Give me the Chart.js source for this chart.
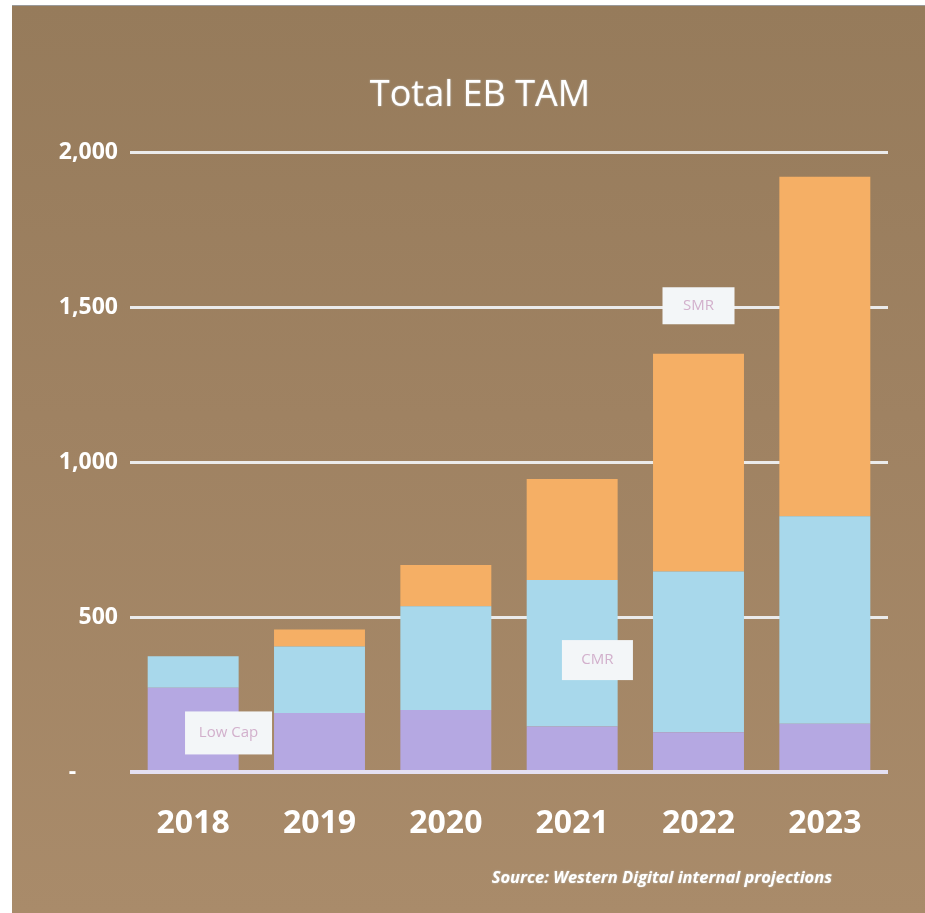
<!DOCTYPE html>
<html>
<head>
<meta charset="utf-8">
<script src="https://cdn.jsdelivr.net/npm/chart.js@4/dist/chart.umd.min.js"></script>
<style>
  html, body { margin: 0; padding: 0; background: #ffffff; }
  #frame {
    position: absolute; left: 12px; top: 5px; width: 913px; height: 908px;
    background: linear-gradient(180deg, #967b5b 0%, #9f8262 45%, #a98b6a 100%);
    border-top: 1px solid #9a9a9a;
  }
  canvas { display: block; }
</style>
</head>
<body>
<div id="frame"><canvas id="c" width="913" height="907"></canvas></div>
<script>
const categories = ['2018', '2019', '2020', '2021', '2022', '2023'];
const lowCap = [272, 190, 200, 147, 128, 156];
const cmr    = [101, 215, 335, 472, 519, 669];
const smr    = [0, 55, 133, 326, 702, 1095];
const seriesNames = ['Low Cap', 'CMR', 'SMR'];
const yTicks = [0, 500, 1000, 1500, 2000];
const yTickLabels = ['-       ', '500', '1,000', '1,500', '2,000'];
const titleText = 'Total EB TAM';
const sourceText = 'Source: Western Digital internal projections';

const FONT = '"Open Sans", "DejaVu Sans", sans-serif';

const calloutPlugin = {
  id: 'callouts',
  afterDatasetsDraw(chart, args, opts) {
    const { ctx } = chart;
    const xs = chart.scales.x, ys = chart.scales.y;
    const step = xs.getPixelForValue(1) - xs.getPixelForValue(0);
    opts.items.forEach(it => {
      const cx = xs.getPixelForValue(Math.floor(it.index)) + (it.index - Math.floor(it.index)) * step;
      const cy = ys.getPixelForValue(it.value);
      ctx.save();
      ctx.fillStyle = '#f3f6f8';
      ctx.fillRect(cx - it.w / 2, cy - it.h / 2, it.w, it.h);
      ctx.fillStyle = '#d2b0cc';
      ctx.font = '15px ' + FONT;
      ctx.textAlign = 'center';
      ctx.textBaseline = 'middle';
      ctx.fillText(it.text, cx, cy);
      ctx.restore();
    });
  }
};

const textPlugin = {
  id: 'slideText',
  afterDraw(chart) {
    const { ctx } = chart;
    ctx.save();
    ctx.fillStyle = '#ffffff';
    ctx.shadowColor = 'rgba(220,240,255,0.6)';
    ctx.shadowBlur = 2;
    ctx.font = '36px ' + FONT;
    ctx.textAlign = 'center';
    ctx.textBaseline = 'middle';
    ctx.fillText(titleText, 468, 90);
    ctx.font = 'italic bold 16.5px ' + FONT;
    ctx.textAlign = 'right';
    ctx.fillText(sourceText, 820, 872);
    ctx.restore();
  }
};

new Chart(document.getElementById('c'), {
  type: 'bar',
  data: {
    labels: categories,
    datasets: [
      { label: seriesNames[0], data: lowCap, backgroundColor: '#b5a8e2' },
      { label: seriesNames[1], data: cmr, backgroundColor: '#a8d8eb' },
      { label: seriesNames[2], data: smr, backgroundColor: '#f5af65' }
    ]
  },
  options: {
    responsive: false,
    animation: false,
    layout: { padding: { top: 146, right: 37, bottom: 60, left: 0 } },
    datasets: { bar: { barPercentage: 0.72, categoryPercentage: 1.0, borderWidth: 0 } },
    plugins: {
      legend: { display: false },
      title: { display: false },
      tooltip: { enabled: false },
      callouts: {
        items: [
          { text: seriesNames[0], index: 0.28, value: 126, w: 87, h: 43 },
          { text: seriesNames[1], index: 3.2, value: 361, w: 71, h: 40 },
          { text: seriesNames[2], index: 4.0, value: 1504, w: 72, h: 37 }
        ]
      }
    },
    scales: {
      x: {
        stacked: true,
        grid: { display: false, drawTicks: false },
        border: { display: false },
        ticks: { color: '#ffffff', font: { family: FONT, size: 32, weight: 'bold' }, padding: 33 },
        afterFit(s) { s.height = 81; }
      },
      y: {
        stacked: true,
        min: 0, max: 2000,
        afterBuildTicks(s) { s.ticks = yTicks.map(v => ({ value: v })); },
        grid: {
          drawTicks: false,
          color: ctx => ctx.tick && ctx.tick.value === 0 ? '#e4e0f2' : '#ebebeb',
          lineWidth: ctx => ctx.tick && ctx.tick.value === 0 ? 4 : 3
        },
        border: { display: false },
        ticks: {
          color: '#ffffff',
          font: { family: FONT, size: 23, weight: 'bold' },
          padding: 12,
          callback: (v) => yTickLabels[yTicks.indexOf(v)]
        },
        afterFit(s) { s.width = 118; }
      }
    }
  },
  plugins: [calloutPlugin, textPlugin]
});
</script>
</body>
</html>
